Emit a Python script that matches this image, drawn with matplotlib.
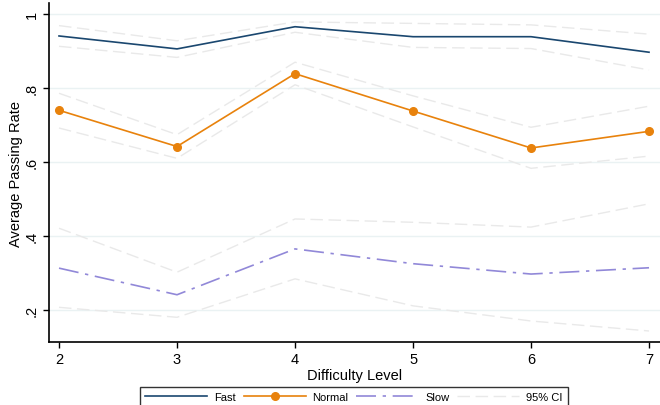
import matplotlib.pyplot as plt
from matplotlib.lines import Line2D

plt.rcParams['font.family'] = ['Liberation Sans', 'DejaVu Sans']

levels = [2, 3, 4, 5, 6, 7]
fast = [0.940, 0.905, 0.965, 0.938, 0.938, 0.896]
fast_hi = [0.968, 0.927, 0.978, 0.974, 0.970, 0.945]
fast_lo = [0.912, 0.882, 0.950, 0.909, 0.906, 0.848]
normal = [0.739, 0.641, 0.838, 0.737, 0.637, 0.682]
normal_hi = [0.785, 0.673, 0.869, 0.778, 0.693, 0.750]
normal_lo = [0.691, 0.609, 0.808, 0.694, 0.582, 0.615]
slow = [0.312, 0.240, 0.364, 0.324, 0.296, 0.313]
slow_hi = [0.420, 0.301, 0.445, 0.436, 0.423, 0.486]
slow_lo = [0.206, 0.179, 0.283, 0.210, 0.169, 0.142]
yticks = [0.2, 0.4, 0.6, 0.8, 1.0]
ylabels = ['.2', '.4', '.6', '.8', '1']

navy = '#1a476f'
orange = '#e8820c'
lav = '#9188d8'
ci = '#e9e9e9'

fig = plt.figure(figsize=(6.6, 4.06), dpi=100)
ax = fig.add_axes([0.0742, 0.155, 0.9258, 0.835])

for ys in [fast_hi, fast_lo, normal_hi, normal_lo, slow_hi, slow_lo]:
    ax.plot(levels, ys, color=ci, lw=1, dashes=(9, 4), zorder=2)
ax.plot(levels, fast, color=navy, lw=1.2, zorder=3)
ax.plot(levels, normal, color=orange, lw=1.2, marker='o', ms=5.5, zorder=3)
ax.plot(levels, slow, color=lav, lw=1.2, dashes=(12, 4, 2, 4), zorder=3)

ax.set_xlim(1.915, 7.093)
ax.set_ylim(0.112, 1.029)
ax.set_xticks(levels)
ax.set_yticks(yticks)
ax.set_yticklabels(ylabels, rotation=90, va='center')
ax.tick_params(labelsize=10.5, length=4, width=1)
ax.grid(axis='y', color='#eaf2f3', lw=1)
ax.set_axisbelow(True)
for s in ['top', 'right']:
    ax.spines[s].set_visible(False)
ax.spines['left'].set_linewidth(1.2)
ax.spines['bottom'].set_linewidth(1.2)
ax.set_xlabel('Difficulty Level', fontsize=10.5, labelpad=1)
ax.set_ylabel('Average Passing Rate', fontsize=10.5, labelpad=1)

handles = [
    Line2D([], [], color=navy, lw=1.2),
    Line2D([], [], color=orange, lw=1.2, marker='o', ms=5.5),
    Line2D([], [], color=lav, lw=1.2, dashes=(12, 4, 2, 4)),
    Line2D([], [], color=ci, lw=1, dashes=(9, 4)),
]
leg = fig.legend(handles, ['Fast', 'Normal', 'Slow', '95% CI'], ncol=4,
                 loc='upper center', bbox_to_anchor=(0.536, 0.045),
                 fontsize=8, frameon=True, fancybox=False,
                 handlelength=5.6, handletextpad=0.6, columnspacing=0.7,
                 borderpad=0.5, borderaxespad=0)
leg.get_frame().set_edgecolor('black')
leg.get_frame().set_linewidth(1)

fig.savefig('out.png', dpi=100)
